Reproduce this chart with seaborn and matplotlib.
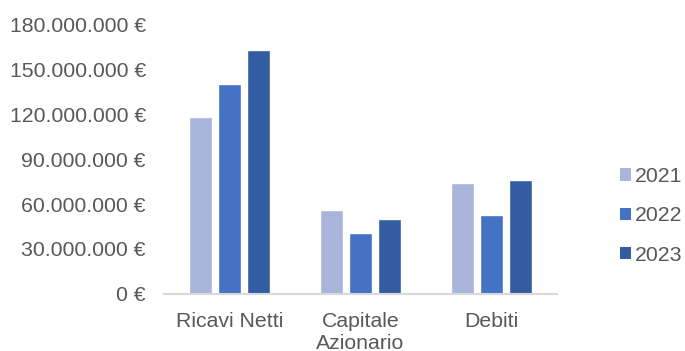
import matplotlib
matplotlib.use("Agg")
import matplotlib.pyplot as plt
from matplotlib.ticker import FuncFormatter, MultipleLocator
from matplotlib.patches import Patch
import seaborn as sns
import pandas as pd

categories = ["Ricavi Netti", "Capitale\nAzionario", "Debiti"]
years = ["2021", "2022", "2023"]
values_2021 = [118_000_000, 56_000_000, 74_000_000]
values_2022 = [140_000_000, 41_000_000, 53_000_000]
values_2023 = [163_000_000, 50_000_000, 76_000_000]
colors = ["#A9B5DA", "#4472C4", "#345CA2"]

rows = []
for year, vals in zip(years, [values_2021, values_2022, values_2023]):
    for cat, v in zip(categories, vals):
        rows.append({"Voce": cat, "Anno": year, "Valore": v})
df = pd.DataFrame(rows)

sns.set_theme(style="white")
plt.rcParams["font.family"] = ["Liberation Sans", "DejaVu Sans"]
text_color = "#595959"
fs = 15.3

fig = plt.figure(figsize=(6.85, 3.51), dpi=100)
ax = fig.add_axes([0.2394, 0.1624, 0.5737, 0.7692])

sns.barplot(data=df, x="Voce", y="Valore", hue="Anno", order=categories,
            hue_order=years, palette=colors, width=0.664, gap=0.2,
            saturation=1, ax=ax, legend=False)

ax.set_ylim(0, 180_000_000)
ax.set_xlim(-0.5, 2.5)
ax.yaxis.set_major_locator(MultipleLocator(30_000_000))
ax.yaxis.set_major_formatter(
    FuncFormatter(lambda v, _: f"{v:,.0f}".replace(",", ".") + " €"))
ax.set_xlabel("")
ax.set_ylabel("")

for side in ["top", "right", "left"]:
    ax.spines[side].set_visible(False)
ax.spines["bottom"].set_color("#D9D9D9")
ax.spines["bottom"].set_linewidth(1.5)

ax.tick_params(axis="y", length=0, pad=13, labelsize=fs, labelcolor=text_color)
ax.tick_params(axis="x", length=0, pad=13, labelsize=fs, labelcolor=text_color)
for lbl in ax.get_xticklabels():
    lbl.set_linespacing(1.2)

handles = [Patch(facecolor=c, edgecolor="none") for c in colors]
fig.legend(handles, years, loc="center left", bbox_to_anchor=(0.905, 0.385),
           frameon=False, fontsize=fs, labelcolor=text_color,
           handlelength=0.52, handleheight=0.52, handletextpad=0.18,
           labelspacing=0.95, borderaxespad=0, borderpad=0)

fig.savefig("out.png", dpi=100, facecolor="white")
